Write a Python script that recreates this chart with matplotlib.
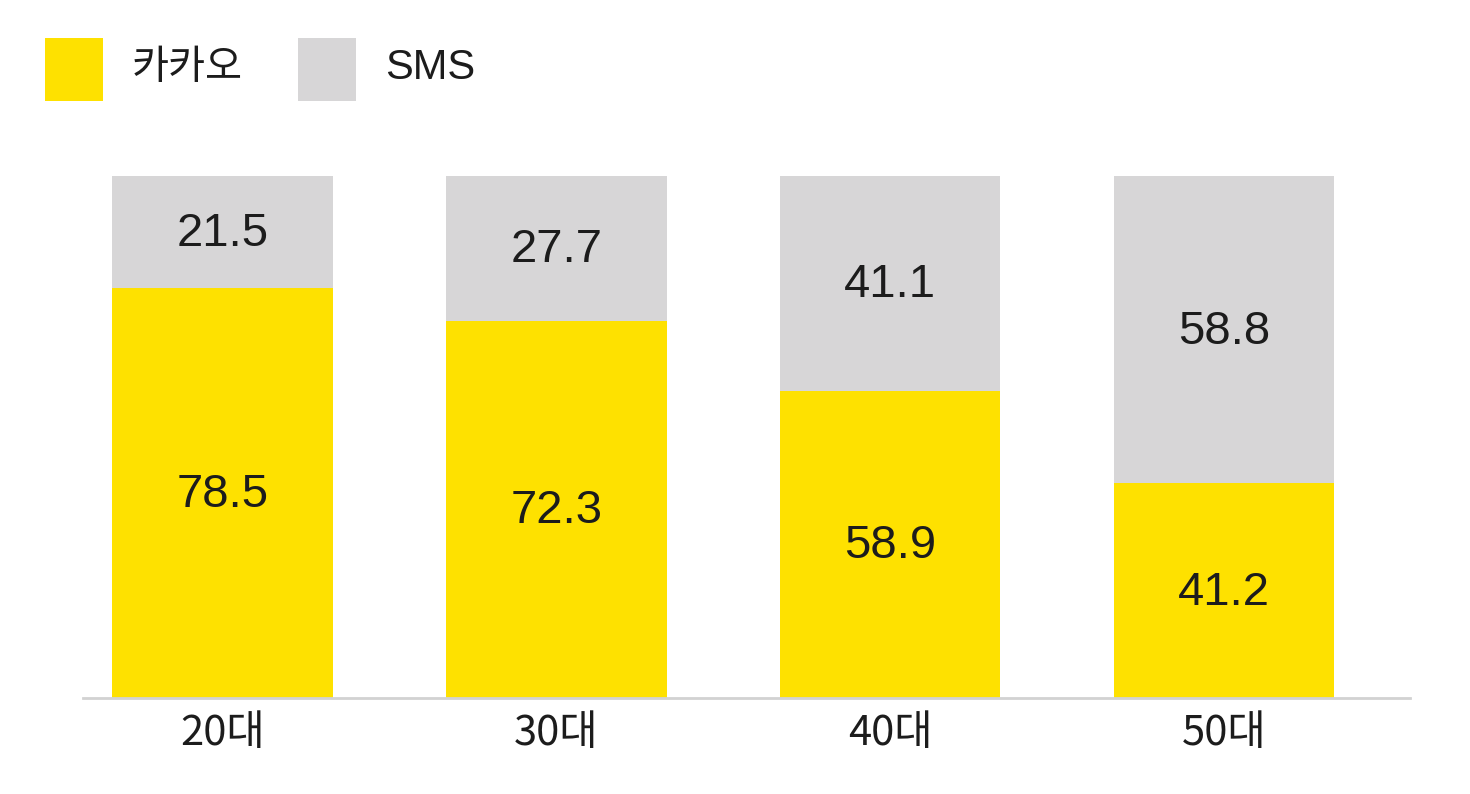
import matplotlib
matplotlib.use("Agg")
import matplotlib.pyplot as plt
from matplotlib.patches import Rectangle

categories = ["20대", "30대", "40대", "50대"]
kakao = [78.5, 72.3, 58.9, 41.2]
sms = [21.5, 27.7, 41.1, 58.8]
series_names = ["카카오", "SMS"]

YELLOW = "#FEE100"
GRAY = "#D7D6D7"
TEXT = "#1c1c1c"

plt.rcParams['font.family'] = ['Noto Sans CJK KR', 'DejaVu Sans']

W, H = 1470, 794
fig = plt.figure(figsize=(W / 100, H / 100), dpi=100)
ax = fig.add_axes([83 / W, (H - 698) / H, (1410 - 83) / W, (698 - 176) / H])

x = list(range(len(categories)))
bw = 0.66
ax.bar(x, kakao, width=bw, color=YELLOW, linewidth=0, zorder=2)
ax.bar(x, sms, width=bw, bottom=kakao, color=GRAY, linewidth=0, zorder=2)

num_fam = ['Liberation Sans', 'DejaVu Sans']
for i, (k, s) in enumerate(zip(kakao, sms)):
    ax.annotate(f"{k:.1f}", (i, k / 2), xytext=(0, -1.5), textcoords="offset points",
                ha="center", va="center", fontsize=34, color=TEXT, family=num_fam, zorder=3)
    ax.annotate(f"{s:.1f}", (i, k + s / 2), xytext=(0, -1.5), textcoords="offset points",
                ha="center", va="center", fontsize=34, color=TEXT, family=num_fam, zorder=3)

ax.set_xlim(-0.418, 3.557)
ax.set_ylim(0, 100)
for side in ["top", "right", "left"]:
    ax.spines[side].set_visible(False)
ax.spines["bottom"].set_color("#d2d2d2")
ax.spines["bottom"].set_linewidth(2)
ax.set_yticks([])
ax.set_xticks(x)
ax.set_xticklabels(categories, fontsize=30, color=TEXT)
ax.tick_params(axis="x", length=0, pad=11)

# legend
colors = [YELLOW, GRAY]
sq_x = [45, 298]
txt_x = [132, 385]
for name, c, sx, tx in zip(series_names, colors, sq_x, txt_x):
    fig.add_artist(Rectangle((sx / W, (H - 101) / H), 58 / W, 63 / H,
                             transform=fig.transFigure, color=c, linewidth=0))
    if name == "SMS":
        fam, fs = num_fam, 30
    else:
        fam, fs = ['Noto Sans CJK KR', 'DejaVu Sans'], 29
    fig.text(tx / W, (H - 68) / H, name, ha="left", va="center", fontsize=fs,
             color=TEXT, family=fam)

fig.savefig("out.png", dpi=100, facecolor="white")
